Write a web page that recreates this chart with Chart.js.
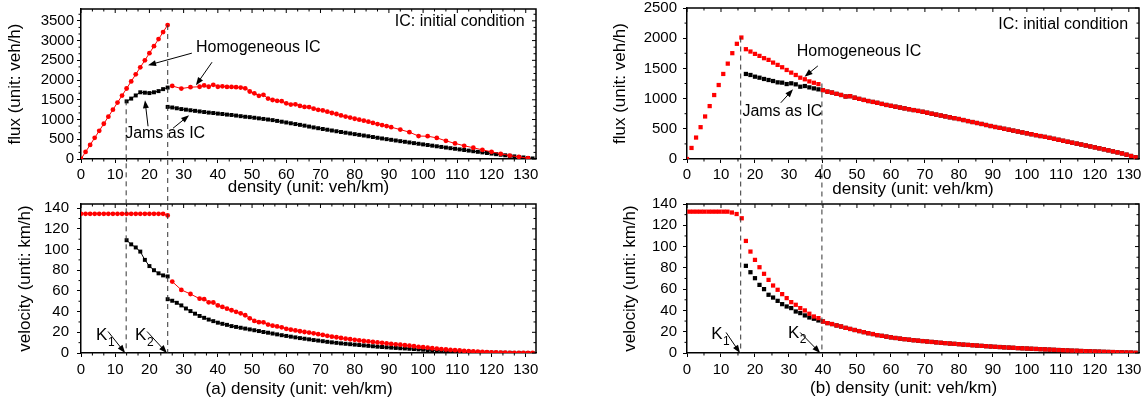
<!DOCTYPE html>
<html>
<head>
<meta charset="utf-8">
<script src="https://cdn.jsdelivr.net/npm/chart.js@4.4.1/dist/chart.umd.min.js"></script>
<style>
  body { margin: 0; background: #fff; overflow: hidden; }
  #fig { position: relative; width: 1145px; height: 401px; }
  #fig canvas { position: absolute; left: 0; top: 0; }
</style>
</head>
<body>
<div id="fig">
  <canvas id="fluxA" width="1145" height="401"></canvas>
  <canvas id="velA" width="1145" height="401"></canvas>
  <canvas id="fluxB" width="1145" height="401"></canvas>
  <canvas id="velB" width="1145" height="401"></canvas>
</div>
<script>
// shared density grid (veh/km)
var density = [0, 1.33, 2.67, 4, 5.33, 6.67, 8, 9.33, 10.67, 12, 13.33, 14.67, 16, 17.33, 18.67, 20, 21.33, 22.67, 24, 25.33,
  26.67, 28, 29.33, 30.67, 32, 33.33, 34.67, 36, 37.33, 38.67, 40, 41.33, 42.67, 44, 45.33, 46.67, 48, 49.33, 50.67, 52,
  53.33, 54.67, 56, 57.33, 58.67, 60, 61.33, 62.67, 64, 65.33, 66.67, 68, 69.33, 70.67, 72, 73.33, 74.67, 76, 77.33, 78.67,
  80, 81.33, 82.67, 84, 85.33, 86.67, 88, 89.33, 90.67, 92, 93.33, 94.67, 96, 97.33, 98.67, 100, 101.33, 102.67, 104, 105.33,
  106.67, 108, 109.33, 110.67, 112, 113.33, 114.67, 116, 117.33, 118.67, 120, 121.33, 122.67, 124, 125.33, 126.67, 128, 129.33, 130.67, 132];

// tick values
var densityTicks = [0, 10, 20, 30, 40, 50, 60, 70, 80, 90, 100, 110, 120, 130];
var fluxTicksA = [0, 500, 1000, 1500, 2000, 2500, 3000, 3500];
var fluxTicksB = [0, 500, 1000, 1500, 2000, 2500];
var velTicks = [0, 20, 40, 60, 80, 100, 120, 140];

// (a) flux, homogeneous IC: free branch (from index 0) and congested branch (from index 20)
var fluxA_homFree = [0, 179, 357, 536, 714, 893, 1072, 1250, 1429, 1608, 1786, 1965, 2144, 2322, 2501, 2680, 2858, 3037, 3216, 3394];
var fluxA_homCong = [1850, null, 1785, null, 1820, null, 1830, 1865, 1830, 1880,
  1830, 1840, 1825, 1825, 1820, 1810, 1790, 1710, 1665, 1600,
  1625, 1530, 1495, 1475, 1465, 1410, 1380, 1385, 1345, 1320,
  1315, 1275, 1245, 1230, 1200, 1165, 1140, 1105, 1075, 1050,
  1020, 995, 970, 945, 915, 885, 860, 835, 805, null,
  745, null, 680, null, 580, null, 578, null, 535, null,
  460, null, 395, null, 335, null, 285, null, 232, null,
  182, null, 132, null, 88, null, 55, null, 20, null];
// (a) flux, jams as IC: upper piece (from index 10), lower branch (from index 19)
var fluxA_jamUp = [1460, 1530, 1610, 1690, 1680, 1670, 1690, 1720, 1770, 1810];
var fluxA_jamLow = [1320, 1305, 1285, 1265, 1250, 1235, 1220, 1205, 1190, 1175,
  1165, 1150, 1140, 1125, 1115, 1100, 1085, 1070, 1060, 1045,
  1030, 1015, 1000, 985, 965, 945, 925, 905, 885, 865,
  845, 822, 800, 780, 760, 742, 722, 703, 684, 666,
  648, 630, 612, 594, 576, 557, 538, 520, 503, 486,
  469, 452, 436, 419, 402, 386, 370, 354, 338, 322,
  306, 290, 274, 259, 243, 228, 213, 197, 182, 167,
  152, 137, 122, 108, 94, 80, 66, 52, 39, 26, 14];

// (a) velocity
var velA_homFree = [134.5, 134.5, 134.5, 134.5, 134.5, 134.5, 134.5, 134.5, 134.5, 134.5,
  134.5, 134.5, 134.5, 134.5, 134.5, 134.5, 134.5, 134.5, 134.5, 133];
var velA_homCong = [69, null, 61, null, 57, null, 52.5, 52, 49, 48.8,
  46, 44.5, 42.8, 41.3, 39.8, 38.3, 36.5, 33.5, 31, 29.8,
  29.6, 27.5, 26.4, 25.7, 24.8, 23.4, 22.5, 21.8, 21, 20.3,
  19.7, 19, 18.2, 17.5, 16.6, 15.8, 15.2, 14.5, 13.8, 13.3,
  12.7, 12.2, 11.6, 11.2, 10.7, 10.2, 9.8, 9.3, 8.8, 8.4,
  8, 7.5, 7.1, 6.5, 5.9, 5.6, 5.1, 4.6, 4.2, 3.8,
  3.4, 3, 2.7, 2.4, 2, 1.8, 1.5, 1.3, 1.1, 0.9,
  0.7, 0.5, 0.4, 0.3, 0.2, 0.2, 0.1, 0.1, 0, 0];
var velA_jamUp = [109, 105, 102, 98, 90, 84, 80, 77, 75, 74];
var velA_jamLow = [52, 50.5, 48.5, 46, 43, 40.5, 38, 35.8, 34, 32.3,
  30.8, 29.3, 28.2, 27.2, 26, 25.2, 24.4, 23.6, 22.8, 22,
  21.2, 20.3, 19.6, 18.8, 18, 17.2, 16.5, 15.8, 15.1, 14.4,
  13.8, 13.2, 12.5, 12, 11.4, 10.8, 10.3, 9.8, 9.3, 8.9,
  8.5, 8.1, 7.7, 7.3, 6.9, 6.5, 6.1, 5.8, 5.5, 5.2,
  4.9, 4.6, 4.4, 4.1, 3.8, 3.5, 3.2, 2.9, 2.7, 2.4,
  2.1, 1.9, 1.7, 1.5, 1.3, 1.1, 1, 0.8, 0.7, 0.6,
  0.5, 0.4, 0.3, 0.3, 0.2, 0.2, 0.1, 0.1, 0.1, 0, 0];

// (b) flux: homogeneous free (from 0), homogeneous congested (from 13), jams (from 13)
var fluxB_homFree = [0, 183, 355, 527, 704, 876, 1059, 1225, 1408, 1579, 1752, 1907, 2011];
var fluxB_homCong = [1818, 1779, 1740, 1707, 1669, 1641, 1596, 1558, 1519, 1474, 1430, 1391, 1346, 1320, 1285, 1262, 1240,
  1140, 1115, 1100, 1078, 1060, 1035, 1040, 1015, 995, 978,
  960, 945, 930, 912, 895, 880, 866, 852, 838, 824,
  810, 796, 782, 766, 750, 735, 720, 705, 690, 676,
  662, 645, 628, 612, 596, 580, 563, 546, 530, 515,
  500, 485, 470, 455, 440, 425, 410, 395, 380, 366,
  350, 334, 318, 302, 286, 270, 255, 240, 224, 208,
  192, 176, 160, 143, 126, 109, 92, 72, 50, 28];
var fluxB_jam = [1408, 1391, 1363, 1346, 1325, 1308, 1291, 1269, 1264, 1241, 1253, 1236, 1197, 1208, 1186, 1169, 1153];

// (b) velocity
var densB_free = [0.7, 1.8, 2.9, 4, 5.1, 6.3, 7.4, 8.5, 9.6, 10.8, 11.9, 13.2, 14.6, 16.1];
var velB_homFree = [132.8, 132.8, 132.8, 132.8, 132.8, 132.8, 132.8, 132.8, 132.8, 132.8, 132.8, 132, 130.6, 126.6];
var velB_homCong = [105.3, 95.3, 87.5, 80.6, 74.4, 68.7, 63.4, 59.4, 55.3, 51.6, 47.8, 45.3, 42.2, 40, 36.9, 34.3, 32.8,
  29.6, 28.1, 27.2, 25.9, 24.9, 23.6, 22.6, 21.6, 20.6, 19.6,
  18.6, 17.8, 16.8, 16.1, 15.4, 14.7, 14.1, 13.5, 13, 12.5,
  12, 11.6, 11.2, 10.8, 10.4, 10, 9.6, 9.3, 8.9, 8.6,
  8.3, 7.9, 7.6, 7.3, 7, 6.7, 6.4, 6.1, 5.8, 5.6,
  5.3, 5.1, 4.9, 4.6, 4.4, 4.2, 4, 3.8, 3.6, 3.4,
  3.2, 3, 2.8, 2.6, 2.4, 2.2, 2.1, 1.9, 1.7, 1.6,
  1.4, 1.3, 1.1, 1, 0.9, 0.7, 0.6, 0.5, 0.4, 0.2];
var velB_jam = [81.9, 75.9, 70.3, 64, 60, 54.7, 52.1, 49, 45.9, 43.7, 42.2, 39, 37.5, 35.3, 33.4, 32.2, 30.6];

var FONT = '"Liberation Sans", Arial, Helvetica, sans-serif';
var RED = '#ff0000';

function pts(vals, start, xs) {
    xs = xs || density;
    var out = [];
    vals.forEach(function (v, j) {
        if (v !== null) out.push({x: xs[start + j], y: v});
    });
    return out;
}

function redLine(d) {
    return {data: d, showLine: true, borderColor: RED, borderWidth: 1, backgroundColor: RED,
        pointStyle: 'circle', pointRadius: 2.4, pointBorderWidth: 0};
}
function blackLine(d) {
    return {data: d, showLine: true, borderColor: '#000', borderWidth: 1, backgroundColor: '#000',
        pointStyle: 'rect', pointRadius: 2.8, pointBorderWidth: 0};
}
function dots(d, col) {
    return {data: d, showLine: false, backgroundColor: col, borderColor: col,
        pointStyle: 'rect', pointRadius: 3, pointBorderWidth: 0};
}

function arrow(ctx, x1, y1, x2, y2) {
    var ang = Math.atan2(y2 - y1, x2 - x1), L = 8, W = 3;
    ctx.beginPath();
    ctx.moveTo(x1, y1);
    ctx.lineTo(x2 - Math.cos(ang) * L * 0.8, y2 - Math.sin(ang) * L * 0.8);
    ctx.stroke();
    ctx.beginPath();
    ctx.moveTo(x2, y2);
    ctx.lineTo(x2 - Math.cos(ang) * L - Math.sin(ang) * W, y2 - Math.sin(ang) * L + Math.cos(ang) * W);
    ctx.lineTo(x2 - Math.cos(ang) * L + Math.sin(ang) * W, y2 - Math.sin(ang) * L - Math.cos(ang) * W);
    ctx.closePath();
    ctx.fill();
}

// frame, minor/mirror ticks, notes, arrows, dashed K lines
function decoPlugin(cfg) {
    return {
        id: 'deco',
        afterDraw: function (chart) {
            var ctx = chart.ctx, a = chart.chartArea, xs = chart.scales.x, ys = chart.scales.y;
            ctx.save();
            ctx.strokeStyle = '#000';
            ctx.fillStyle = '#000';
            ctx.lineWidth = 1.5;
            ctx.beginPath();
            ctx.moveTo(a.left, a.top); ctx.lineTo(a.right, a.top); ctx.lineTo(a.right, a.bottom);
            ctx.stroke();

            ctx.lineWidth = 1;
            ctx.beginPath();
            var j, v, p, big;
            for (j = 0; j * cfg.xMinor <= xs.max + 1e-9; j++) {
                v = j * cfg.xMinor;
                big = Math.abs(v / 10 - Math.round(v / 10)) < 1e-6;
                p = xs.getPixelForValue(v);
                if (!big) { ctx.moveTo(p, a.bottom); ctx.lineTo(p, a.bottom + 2.5); }
                ctx.moveTo(p, a.top); ctx.lineTo(p, a.top + (big ? 4 : 2.5));
            }
            for (j = 0; j * cfg.yMinor <= ys.max + 1e-9; j++) {
                v = j * cfg.yMinor;
                big = Math.abs(v / cfg.yMajor - Math.round(v / cfg.yMajor)) < 1e-6;
                p = ys.getPixelForValue(v);
                if (!big) { ctx.moveTo(a.left, p); ctx.lineTo(a.left - 2.5, p); }
                ctx.moveTo(a.right, p); ctx.lineTo(a.right - (big ? 4 : 2.5), p);
            }
            ctx.stroke();

            // dashed K lines, starting on the flux panel above
            ctx.save();
            ctx.setLineDash([5, 4]);
            ctx.strokeStyle = '#333';
            cfg.dashes.forEach(function (d) {
                var px = xs.getPixelForValue(d.x);
                var y0 = cfg.link.scales.y.getPixelForValue(d.from);
                ctx.beginPath();
                ctx.moveTo(px, y0); ctx.lineTo(px, a.bottom);
                ctx.stroke();
            });
            ctx.restore();

            ctx.lineWidth = 1;
            cfg.arrows.forEach(function (r) {
                arrow(ctx, xs.getPixelForValue(r[0]), ys.getPixelForValue(r[1]),
                    xs.getPixelForValue(r[2]), ys.getPixelForValue(r[3]));
            });

            ctx.textBaseline = 'middle';
            cfg.notes.forEach(function (n) {
                var px = xs.getPixelForValue(n.x), py = ys.getPixelForValue(n.y);
                ctx.font = (n.size || 16) + 'px ' + FONT;
                ctx.textAlign = n.align || 'left';
                ctx.fillText(n.t, px, py);
                if (n.sub) {
                    var w = ctx.measureText(n.t).width;
                    ctx.font = '12px ' + FONT;
                    ctx.textAlign = 'left';
                    ctx.fillText(n.sub, px + w + 0.5, py + 7);
                }
            });
            ctx.restore();
        }
    };
}

function fixedTicks(list) {
    return function (s) {
        s.ticks = list.map(function (v) { return {value: v}; });
    };
}

function makeChart(id, o) {
    var cfg = {xMinor: o.xMinor, yMinor: o.yMinor, yMajor: o.yStep,
        notes: o.notes || [], arrows: o.arrows || [], dashes: o.dashes || [], link: o.link || null};
    var tickFont = {size: 15, family: FONT};
    var titleFont = {size: 17, family: FONT};
    return new Chart(document.getElementById(id), {
        type: 'scatter',
        data: {datasets: o.datasets},
        options: {
            responsive: false,
            animation: false,
            events: [],
            layout: {padding: o.pad},
            plugins: {legend: {display: false}, tooltip: {enabled: false}},
            scales: {
                x: {
                    type: 'linear', min: 0, max: 133,
                    afterBuildTicks: fixedTicks(densityTicks),
                    afterFit: function (s) { s.height = o.xH; s.paddingLeft = 0; s.paddingRight = 0; },
                    ticks: {autoSkip: false, maxRotation: 0,
                        padding: o.xPad, color: '#000', font: tickFont,
                        callback: function (v) { return String(v); }},
                    grid: {drawOnChartArea: false, drawTicks: true, tickLength: 4, color: '#000', lineWidth: 1},
                    border: {display: true, color: '#000', width: 1.5},
                    title: {display: true, text: o.xTitle, color: '#000', font: titleFont,
                        padding: {top: 0, bottom: o.xTitlePad}}
                },
                y: {
                    type: 'linear', min: 0, max: o.yMax,
                    afterBuildTicks: fixedTicks(o.yTicks),
                    afterFit: function (s) { s.width = 81; s.paddingTop = 0; s.paddingBottom = 0; },
                    ticks: {autoSkip: false,
                        padding: o.yPad, color: '#000', font: tickFont,
                        callback: function (v) { return String(v); }},
                    grid: {drawOnChartArea: false, drawTicks: true, tickLength: 4, color: '#000', lineWidth: 1},
                    border: {display: true, color: '#000', width: 1.5},
                    title: {display: true, text: o.yTitle, color: '#000', font: titleFont,
                        padding: {top: o.yTitlePad, bottom: 0}}
                }
            }
        },
        plugins: [decoPlugin(cfg)]
    });
}

var chartFluxA = makeChart('fluxA', {
    pad: {left: 0, right: 609, top: 9, bottom: 201}, xH: 41, xPad: 3, yPad: 3,
    yMax: 3800, yStep: 500, yTicks: fluxTicksA, yMinor: 500 / 3, xMinor: 10 / 3,
    xTitle: 'density (unit: veh/km)', xTitlePad: 2,
    yTitle: 'flux (unit: veh/h)', yTitlePad: 5,
    datasets: [
        redLine(pts(fluxA_homCong, 20)),
        redLine(pts(fluxA_homFree, 0)),
        blackLine(pts(fluxA_jamLow, 19)),
        blackLine(pts(fluxA_jamUp, 10))
    ],
    notes: [
        {x: 129.7, y: 3492, t: 'IC: initial condition', align: 'right'},
        {x: 33.6, y: 2833, t: 'Homogeneous IC'},
        {x: 12.9, y: 652, t: 'Jams as IC'}
    ],
    arrows: [[32.4, 2681, 19.6, 2376], [38.3, 2452, 33.6, 1869], [19.6, 829, 18.7, 1489], [26.9, 779, 31.6, 1108]]
});

makeChart('velA', {
    pad: {left: 0, right: 609, top: 204, bottom: 0}, xH: 48, xPad: 4, yPad: 8,
    yMax: 144, yStep: 20, yTicks: velTicks, yMinor: 10, xMinor: 10 / 3,
    xTitle: '(a) density (unit: veh/km)    ', xTitlePad: 1,
    yTitle: 'velocity (unti: km/h)', yTitlePad: 15,
    datasets: [
        redLine(pts(velA_homCong, 20)),
        redLine(pts(velA_homFree, 0)),
        blackLine(pts(velA_jamLow, 19)),
        blackLine(pts(velA_jamUp, 10))
    ],
    notes: [
        {x: 4.4, y: 16.7, t: 'K', sub: '1', size: 17},
        {x: 15.8, y: 16.7, t: 'K', sub: '2', size: 17}
    ],
    arrows: [[7.9, 20.8, 12.9, 0], [19.3, 20.8, 25.1, 0]],
    dashes: [{x: 13.2, from: 1486}, {x: 25.35, from: 3394}],
    link: chartFluxA
});

var chartFluxB = makeChart('fluxB', {
    pad: {left: 606, right: 6, top: 8, bottom: 201}, xH: 41, xPad: 3, yPad: 6,
    yMax: 2500, yStep: 500, yTicks: fluxTicksB, yMinor: 250, xMinor: 5,
    xTitle: 'density (unit: veh/km)', xTitlePad: 0,
    yTitle: 'flux (unit: veh/h)', yTitlePad: 4,
    datasets: [
        dots(pts(fluxB_homCong, 13), RED),
        dots(pts(fluxB_homFree, 0), RED),
        dots(pts(fluxB_jam, 13).concat(pts(fluxB_homCong.slice(17), 30)), '#000')
    ],
    notes: [
        {x: 129.8, y: 2222, t: 'IC: initial condition', align: 'right'},
        {x: 32.3, y: 1779, t: 'Homogeneous IC'},
        {x: 16.3, y: 781, t: 'Jams as IC'}
    ],
    arrows: [[38.5, 1541, 34.6, 1363], [27.6, 931, 31.2, 1154]]
});

makeChart('velB', {
    pad: {left: 606, right: 6, top: 204, bottom: 0}, xH: 48, xPad: 4, yPad: 6,
    yMax: 140, yStep: 20, yTicks: velTicks, yMinor: 10, xMinor: 5,
    xTitle: '(b) density (unit: veh/km)    ', xTitlePad: 2,
    yTitle: 'velocity (unti: km/h)', yTitlePad: 14,
    datasets: [
        dots(pts(velB_homCong, 13), RED),
        dots(pts(velB_homFree, 0, densB_free), RED),
        dots(pts(velB_jam, 13).concat(pts(velB_homCong.slice(17), 30)), '#000')
    ],
    notes: [
        {x: 7.1, y: 17.2, t: 'K', sub: '1', size: 17},
        {x: 29.7, y: 18.8, t: 'K', sub: '2', size: 17}
    ],
    arrows: [[11.5, 19.3, 15.6, 0], [33.3, 19.3, 39.2, 0]],
    dashes: [{x: 15.8, from: 2011}, {x: 39.7, from: 1250}],
    link: chartFluxB
});
</script>
</body>
</html>
